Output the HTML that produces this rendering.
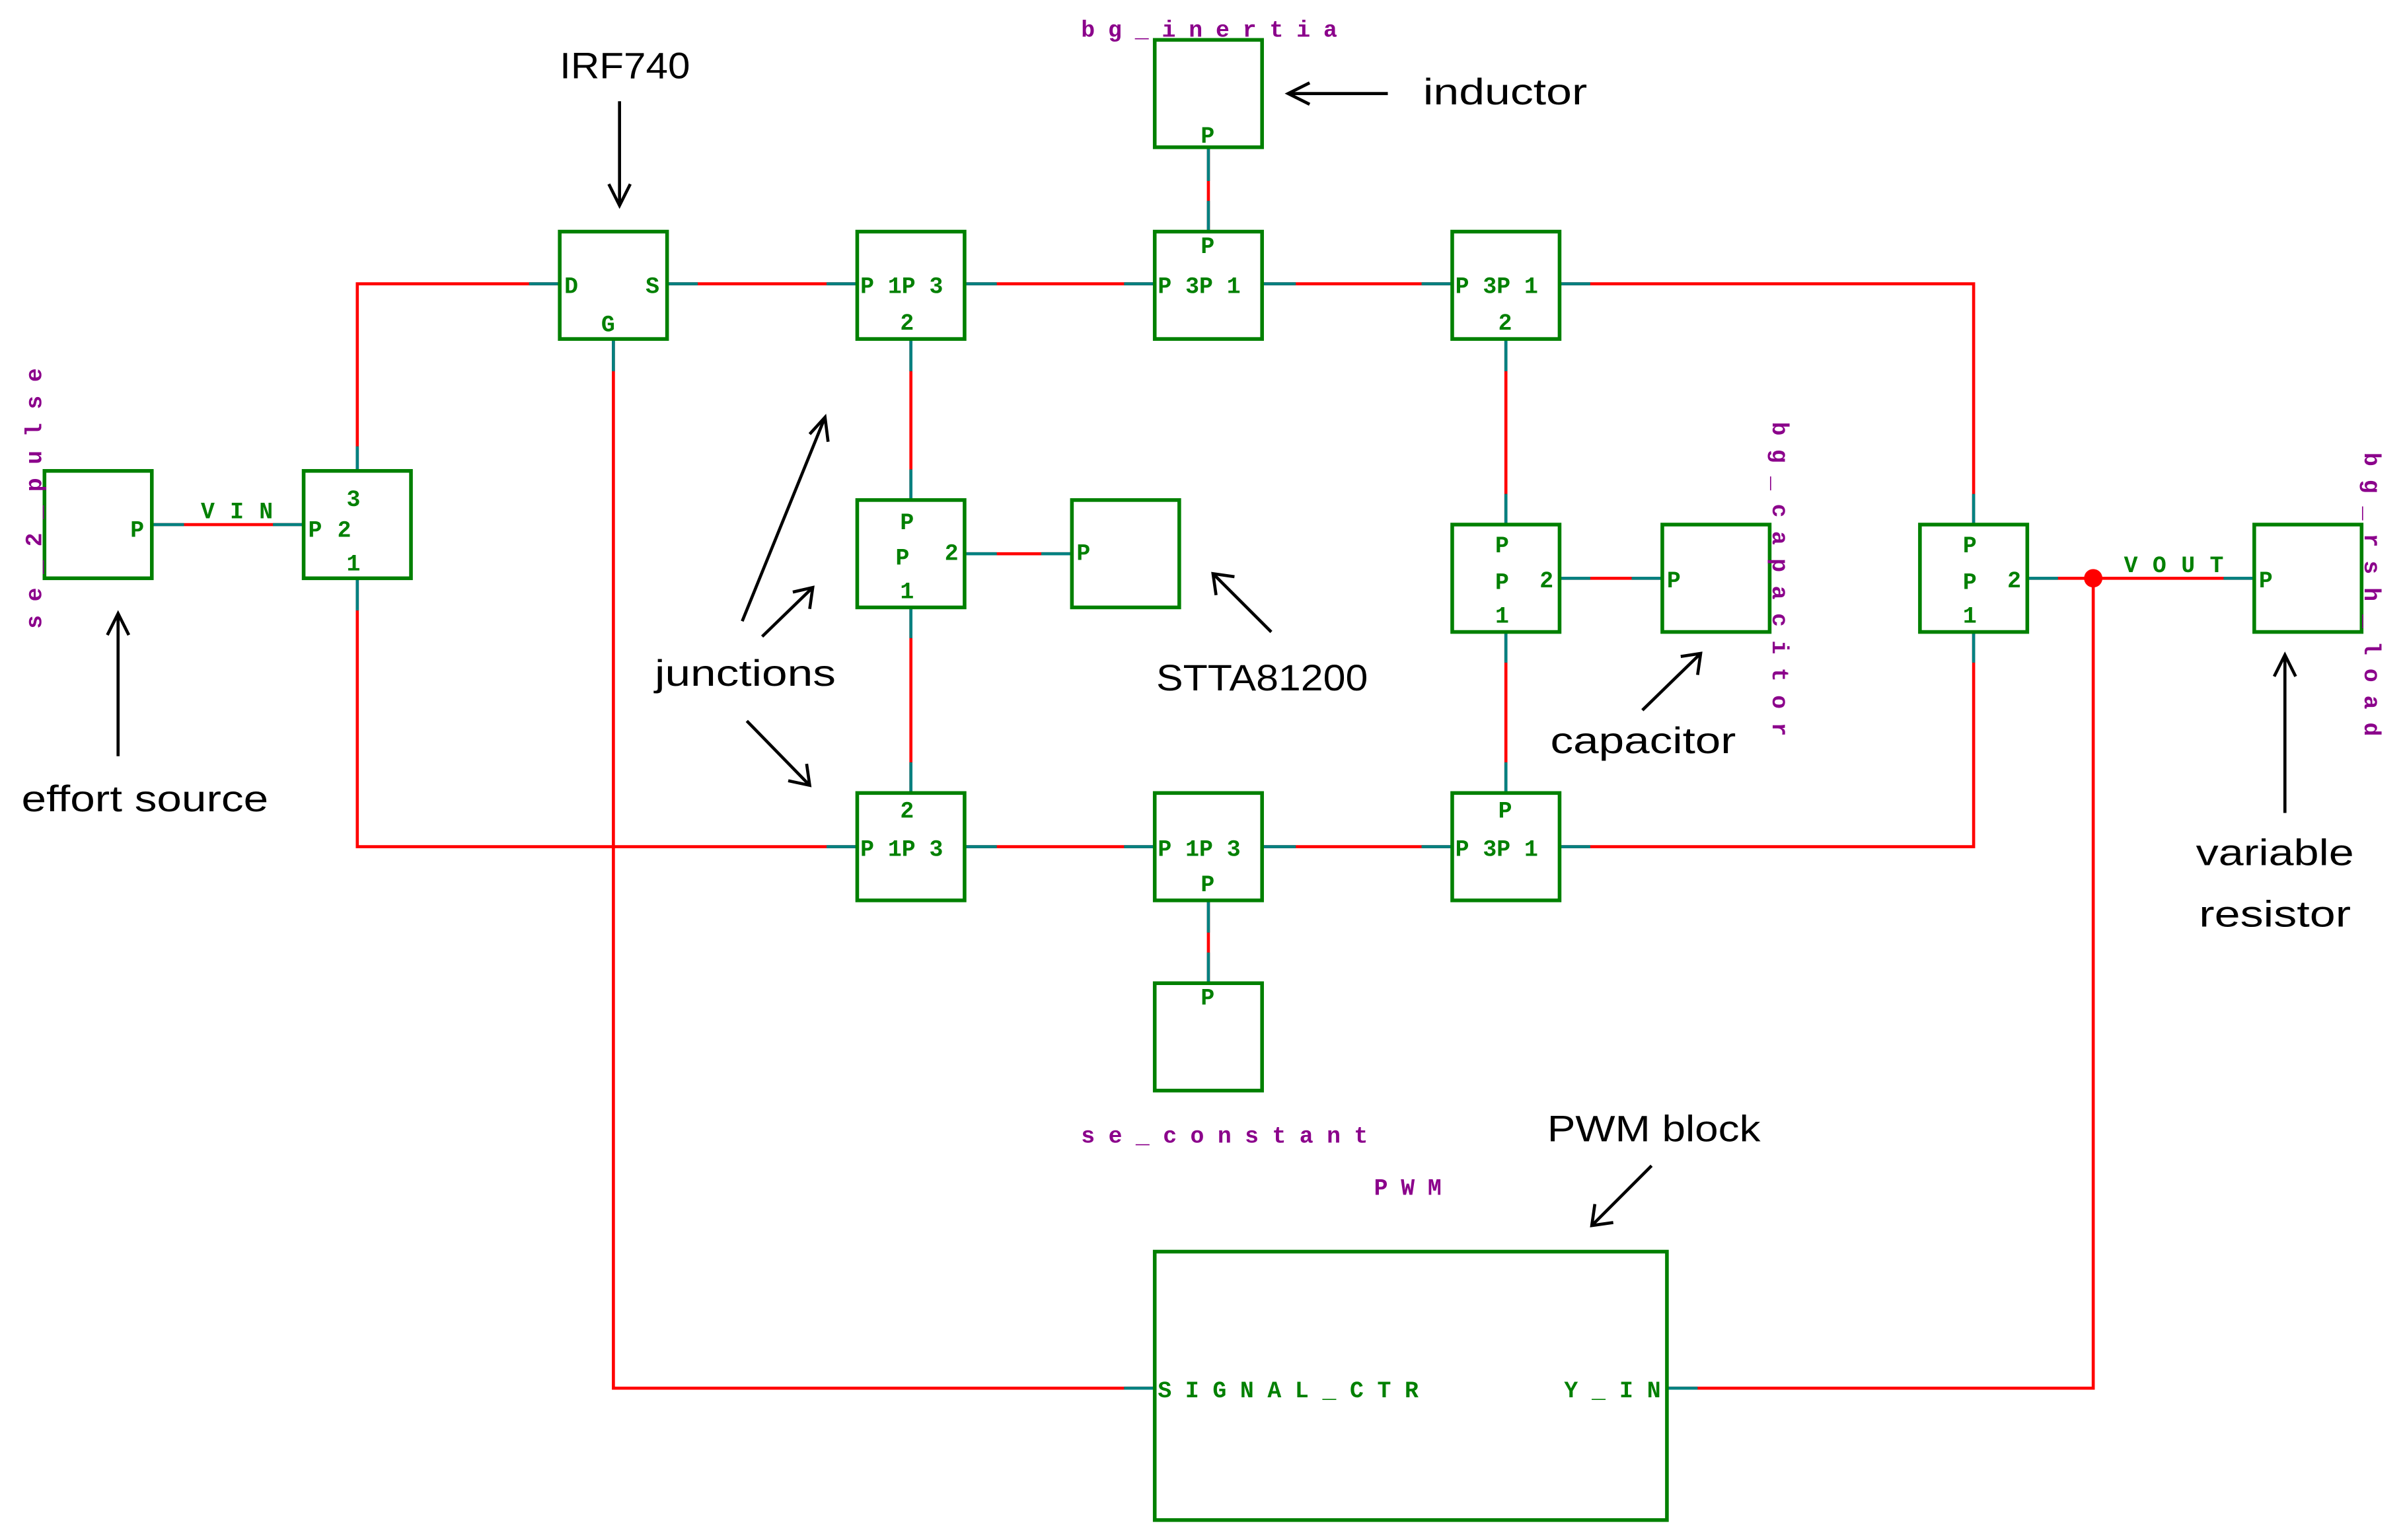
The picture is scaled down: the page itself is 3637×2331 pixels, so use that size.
<!DOCTYPE html>
<html><head><meta charset="utf-8"><style>
html,body{margin:0;padding:0;background:#fff;}
svg{display:block;}
.b{fill:#fff;stroke:#008000;stroke-width:2.4;}
.w{fill:none;stroke:#ff0000;stroke-width:2;}
.t{stroke:#008080;stroke-width:2;fill:none;}
.g{fill:#008000;font-family:"Liberation Mono",monospace;font-weight:bold;font-size:15px;}
.p{fill:#8b008b;font-family:"Liberation Mono",monospace;font-weight:bold;font-size:15px;}
.a{fill:#000;font-family:"Liberation Sans",sans-serif;font-size:24px;}
.ar{stroke:#000;stroke-width:2;fill:none;}
</style></head><body>
<svg width="3637" height="2331" viewBox="0 0 1567 1004" preserveAspectRatio="none" xmlns="http://www.w3.org/2000/svg">
<g class="w">
<line x1="99" y1="342" x2="198" y2="342"/>
<polyline points="233,307 233,185 365,185"/>
<polyline points="233,377 233,552 559,552"/>
<line x1="435" y1="185" x2="559" y2="185"/>
<line x1="629" y1="185" x2="753" y2="185"/>
<line x1="823" y1="185" x2="947" y2="185"/>
<polyline points="1017,185 1287,185 1287,342"/>
<line x1="788" y1="96" x2="788" y2="151"/>
<line x1="594" y1="221" x2="594" y2="326"/>
<line x1="629" y1="361" x2="699" y2="361"/>
<line x1="594" y1="396" x2="594" y2="517"/>
<line x1="982" y1="221" x2="982" y2="342"/>
<line x1="1017" y1="377" x2="1084" y2="377"/>
<line x1="982" y1="412" x2="982" y2="517"/>
<line x1="629" y1="552" x2="753" y2="552"/>
<line x1="823" y1="552" x2="947" y2="552"/>
<polyline points="1017,552 1287,552 1287,412"/>
<line x1="788" y1="587" x2="788" y2="641"/>
<polyline points="400,221 400,905 753,905"/>
<line x1="1322" y1="377" x2="1470" y2="377"/>
<polyline points="1087,905 1365,905 1365,377"/>
</g>
<g class="t">
<line x1="99" y1="342" x2="120" y2="342"/><line x1="178" y1="342" x2="198" y2="342"/>
<line x1="233" y1="307" x2="233" y2="291"/><line x1="233" y1="377" x2="233" y2="398"/>
<line x1="345" y1="185" x2="365" y2="185"/><line x1="435" y1="185" x2="455" y2="185"/>
<line x1="539" y1="185" x2="559" y2="185"/><line x1="629" y1="185" x2="650" y2="185"/>
<line x1="733" y1="185" x2="753" y2="185"/><line x1="823" y1="185" x2="845" y2="185"/>
<line x1="927" y1="185" x2="947" y2="185"/><line x1="1017" y1="185" x2="1037" y2="185"/>
<line x1="788" y1="96" x2="788" y2="118"/><line x1="788" y1="131" x2="788" y2="151"/>
<line x1="594" y1="221" x2="594" y2="242"/><line x1="594" y1="306" x2="594" y2="326"/>
<line x1="629" y1="361" x2="650" y2="361"/><line x1="679" y1="361" x2="699" y2="361"/>
<line x1="594" y1="396" x2="594" y2="416"/><line x1="594" y1="497" x2="594" y2="517"/>
<line x1="982" y1="221" x2="982" y2="242"/><line x1="982" y1="322" x2="982" y2="342"/>
<line x1="1017" y1="377" x2="1037" y2="377"/><line x1="1064" y1="377" x2="1084" y2="377"/>
<line x1="982" y1="412" x2="982" y2="432"/><line x1="982" y1="497" x2="982" y2="517"/>
<line x1="539" y1="552" x2="559" y2="552"/><line x1="629" y1="552" x2="650" y2="552"/>
<line x1="733" y1="552" x2="753" y2="552"/><line x1="823" y1="552" x2="845" y2="552"/>
<line x1="927" y1="552" x2="947" y2="552"/><line x1="1017" y1="552" x2="1037" y2="552"/>
<line x1="1287" y1="322" x2="1287" y2="342"/><line x1="1287" y1="412" x2="1287" y2="432"/>
<line x1="788" y1="587" x2="788" y2="608"/><line x1="788" y1="621" x2="788" y2="641"/>
<line x1="400" y1="221" x2="400" y2="242"/><line x1="733" y1="905" x2="753" y2="905"/>
<line x1="1087" y1="905" x2="1107" y2="905"/>
<line x1="1322" y1="377" x2="1342" y2="377"/><line x1="1450" y1="377" x2="1470" y2="377"/>
</g>
<circle cx="1365" cy="377" r="6" fill="#ff0000"/>
<rect class="b" x="29" y="307" width="70" height="70"/>
<rect class="b" x="198" y="307" width="70" height="70"/>
<rect class="b" x="365" y="151" width="70" height="70"/>
<rect class="b" x="559" y="151" width="70" height="70"/>
<rect class="b" x="753" y="151" width="70" height="70"/>
<rect class="b" x="947" y="151" width="70" height="70"/>
<rect class="b" x="753" y="26" width="70" height="70"/>
<rect class="b" x="559" y="326" width="70" height="70"/>
<rect class="b" x="699" y="326" width="70" height="70"/>
<rect class="b" x="947" y="342" width="70" height="70"/>
<rect class="b" x="1084" y="342" width="70" height="70"/>
<rect class="b" x="1252" y="342" width="70" height="70"/>
<rect class="b" x="1470" y="342" width="70" height="70"/>
<rect class="b" x="559" y="517" width="70" height="70"/>
<rect class="b" x="753" y="517" width="70" height="70"/>
<rect class="b" x="947" y="517" width="70" height="70"/>
<rect class="b" x="753" y="641" width="70" height="70"/>
<rect class="b" x="753" y="816" width="334" height="175"/>
<g class="g">
<text x="85" y="350">P</text>
<text x="201" y="350">P</text><text x="220" y="350">2</text><text x="226" y="330">3</text><text x="226" y="372">1</text>
<text x="368" y="191">D</text><text x="421" y="191">S</text><text x="392" y="216">G</text>
<text x="561" y="191">P 1P 3</text><text x="587" y="215">2</text>
<text x="755" y="191">P 3P 1</text><text x="783" y="165">P</text>
<text x="949" y="191">P 3P 1</text><text x="977" y="215">2</text>
<text x="783" y="93">P</text>
<text x="587" y="345">P</text><text x="616" y="365">2</text><text x="584" y="368">P</text><text x="587" y="390">1</text>
<text x="702" y="365">P</text>
<text x="975" y="360">P</text><text x="1004" y="383">2</text><text x="975" y="384">P</text><text x="975" y="406">1</text>
<text x="1087" y="383">P</text>
<text x="1280" y="360">P</text><text x="1309" y="383">2</text><text x="1280" y="384">P</text><text x="1280" y="406">1</text>
<text x="1473" y="383">P</text>
<text x="561" y="558">P 1P 3</text><text x="587" y="533">2</text>
<text x="755" y="558">P 1P 3</text><text x="783" y="581">P</text>
<text x="949" y="558">P 3P 1</text><text x="977" y="533">P</text>
<text x="783" y="655">P</text>
<text x="755" y="911" textLength="170" lengthAdjust="spacing">SIGNAL_CTR</text>
<text x="1020" y="911" textLength="63" lengthAdjust="spacing">Y_IN</text>
<text x="131" y="338" textLength="47" lengthAdjust="spacing">VIN</text>
<text x="1385" y="373" textLength="65" lengthAdjust="spacing">VOUT</text>
</g>
<g class="p">
<text x="705" y="24" textLength="167" lengthAdjust="spacing">bg_inertia</text>
<text x="705" y="745" textLength="187" lengthAdjust="spacing">se_constant</text>
<text x="896" y="779" textLength="44" lengthAdjust="spacing">PWM</text>
<text transform="translate(27,410) rotate(-90)" textLength="170" lengthAdjust="spacing">se_2_pulse</text>
<text transform="translate(1156,275) rotate(90)" textLength="205" lengthAdjust="spacing">bg_capacitor</text>
<text transform="translate(1542,295) rotate(90)" textLength="185" lengthAdjust="spacing">bg_rsh_load</text>
</g>
<g class="a">
<text x="365" y="51" textLength="85" lengthAdjust="spacingAndGlyphs">IRF740</text>
<text x="928" y="68" textLength="107" lengthAdjust="spacingAndGlyphs">inductor</text>
<text x="427" y="447" textLength="118" lengthAdjust="spacingAndGlyphs">junctions</text>
<text x="754" y="450" textLength="138" lengthAdjust="spacingAndGlyphs">STTA81200</text>
<text x="1011" y="491" textLength="121" lengthAdjust="spacingAndGlyphs">capacitor</text>
<text x="14" y="529" textLength="161" lengthAdjust="spacingAndGlyphs">effort source</text>
<text x="1432" y="564" textLength="103" lengthAdjust="spacingAndGlyphs">variable</text>
<text x="1434" y="604" textLength="99" lengthAdjust="spacingAndGlyphs">resistor</text>
<text x="1009" y="744" textLength="139" lengthAdjust="spacingAndGlyphs">PWM block</text>
</g>
<g class="ar">
<line x1="404" y1="66" x2="404" y2="134"/><polyline points="397,120 404,134 411,120"/>
<line x1="905" y1="61" x2="840" y2="61"/><polyline points="854,54 840,61 854,68"/>
<line x1="484" y1="405" x2="538" y2="272"/><polyline points="528,283 538,272 540,288"/>
<line x1="497" y1="415" x2="530" y2="383"/><polyline points="517,386 530,383 528,397"/>
<line x1="487" y1="470" x2="528" y2="512"/><polyline points="526,498 528,512 514,509"/>
<line x1="829" y1="412" x2="791" y2="374"/><polyline points="793,388 791,374 805,376"/>
<line x1="1071" y1="463" x2="1109" y2="426"/><polyline points="1096,428 1109,426 1107,440"/>
<line x1="77" y1="493" x2="77" y2="400"/><polyline points="70,414 77,400 84,414"/>
<line x1="1490" y1="530" x2="1490" y2="427"/><polyline points="1483,441 1490,427 1497,441"/>
<line x1="1077" y1="760" x2="1038" y2="799"/><polyline points="1040,785 1038,799 1052,797"/>
</g>
</svg>
</body></html>
